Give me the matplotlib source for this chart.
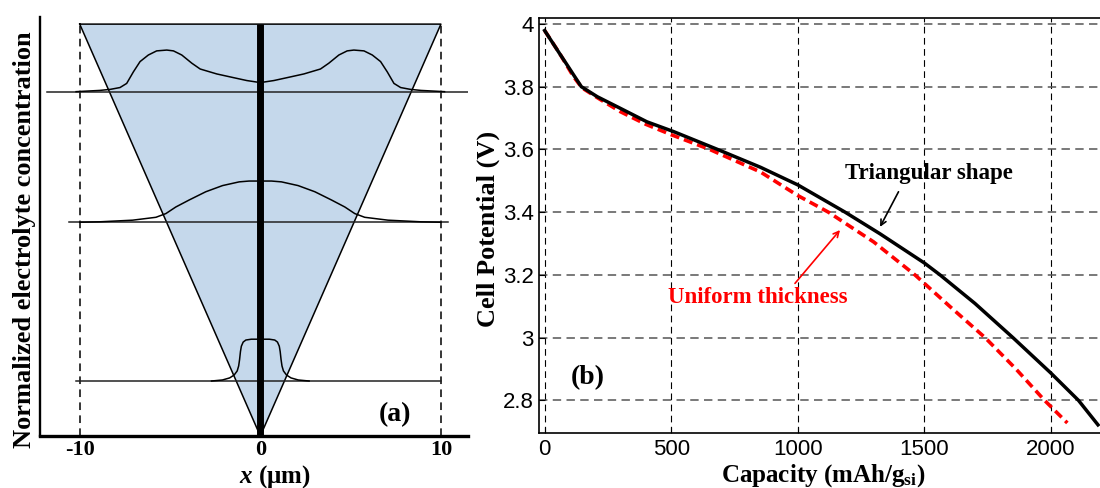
import matplotlib.pyplot as plt

plt.rcParams['mathtext.fontset'] = 'custom'
plt.rcParams['mathtext.rm'] = 'Liberation Serif:bold'
plt.rcParams['mathtext.bf'] = 'Liberation Serif:bold'
plt.rcParams['mathtext.it'] = 'Liberation Serif:italic:bold'
plt.rcParams['mathtext.bfit'] = 'Liberation Serif:italic:bold'

SERIF = 'Liberation Serif'
SANS = 'Liberation Sans'

# ---- panel (a): electrolyte concentration profiles ----
tri_x = [-10, 10, 0]
tri_y = [1.0, 1.0, 0.0]

x_ticks_a = [-10, 0, 10]

# profile levels (baseline y) and their profile curves
base_levels = [0.835, 0.519, 0.1335]
base_left = [-11.8, -10.6, -10.2]
base_right = [11.5, 10.4, 10.0]

top_x = [-10.2, -8.9, -8.32, -7.77, -7.40, -7.03, -6.66, -6.20, -5.74, -5.18, -4.81,
         -4.35, -3.79, -3.33, -2.41, -1.48, -0.75, 0.0, 0.75, 1.48, 2.41, 3.33, 3.79,
         4.35, 4.81, 5.18, 5.74, 6.20, 6.66, 7.03, 7.40, 7.77, 8.32, 8.9, 10.2]
top_y = [0.836, 0.839, 0.8415, 0.846, 0.856, 0.884, 0.909, 0.925, 0.935, 0.937, 0.935,
         0.925, 0.905, 0.891, 0.879, 0.870, 0.863, 0.858, 0.863, 0.870, 0.879, 0.891, 0.905,
         0.925, 0.935, 0.937, 0.935, 0.925, 0.909, 0.884, 0.856, 0.846, 0.8415, 0.839, 0.836]

mid_x = [-10.0, -8.9, -7.07, -5.78, -5.23, -4.68, -3.94, -3.02, -2.09, -1.17, -0.62, 0.0,
         0.62, 1.17, 2.09, 3.02, 3.94, 4.68, 5.23, 5.78, 7.07, 8.9, 10.0]
mid_y = [0.519, 0.520, 0.524, 0.531, 0.540, 0.556, 0.573, 0.593, 0.608, 0.617, 0.619, 0.619,
         0.619, 0.617, 0.608, 0.593, 0.573, 0.556, 0.540, 0.531, 0.524, 0.520, 0.519]

bot_x = [-2.7, -2.1, -1.7, -1.45, -1.28, -1.2, -1.15, -1.1, -1.05, -0.95, -0.8, -0.5, 0.0,
         0.5, 0.8, 0.95, 1.05, 1.1, 1.15, 1.2, 1.28, 1.45, 1.7, 2.1, 2.7]
bot_y = [0.1335, 0.136, 0.141, 0.148, 0.158, 0.170, 0.185, 0.205, 0.218, 0.228, 0.233, 0.235, 0.235,
         0.235, 0.233, 0.228, 0.218, 0.205, 0.185, 0.170, 0.158, 0.148, 0.141, 0.136, 0.1335]

# ---- panel (b): discharge curves ----
tri_cap = [0, 62, 85, 114, 145, 208, 299, 404, 509, 683, 853, 1000, 1187, 1325, 1500,
           1562, 1700, 1850, 2000, 2109, 2186]
tri_v = [3.979, 3.902, 3.874, 3.838, 3.800, 3.768, 3.731, 3.688, 3.657, 3.600, 3.543, 3.487,
         3.400, 3.331, 3.238, 3.200, 3.109, 3.000, 2.887, 2.800, 2.722]

uni_cap = [0, 60, 114, 148, 212, 300, 400, 500, 652, 853, 1000, 1121, 1300, 1463, 1600,
           1740, 1862, 1975, 2065]
uni_v = [3.979, 3.905, 3.832, 3.796, 3.763, 3.720, 3.680, 3.647, 3.600, 3.528, 3.453, 3.400,
         3.305, 3.200, 3.100, 3.000, 2.900, 2.800, 2.728]

cap_ticks = [0, 500, 1000, 1500, 2000]
v_ticks = [2.8, 3.0, 3.2, 3.4, 3.6, 3.8, 4.0]
v_labels = ['2.8', '3', '3.2', '3.4', '3.6', '3.8', '4']

fig = plt.figure(figsize=(11, 4.88), dpi=100)

# ---------------- panel (a) ----------------
axL = fig.add_axes([40 / 1100, 1 - 436 / 488, 428 / 1100, (436 - 16.7) / 488])
axL.fill(tri_x, tri_y, color='#c5d8eb', lw=0)
axL.plot(tri_x + [tri_x[0]], tri_y + [tri_y[0]], color='black', lw=1.1)
for xv in [-10, 10]:
    axL.plot([xv, xv], [0, 1.0], color='black', lw=1.1, dashes=(5, 3.5))
for lev, xl, xr in zip(base_levels, base_left, base_right):
    axL.plot([xl, xr], [lev, lev], color='#222222', lw=1.1)
axL.plot(top_x, top_y, color='black', lw=1.1)
axL.plot(mid_x, mid_y, color='black', lw=1.1)
axL.plot(bot_x, bot_y, color='black', lw=1.1)
axL.plot([0, 0], [0, 1.0], color='black', lw=5, solid_capstyle='butt')

axL.set_xlim(-12.2, 11.5)
axL.set_ylim(0, 1.018)
axL.spines['top'].set_visible(False)
axL.spines['right'].set_visible(False)
axL.spines['left'].set_linewidth(1.7)
axL.spines['bottom'].set_linewidth(2.4)
axL.set_yticks([])
axL.set_xticks(x_ticks_a)
axL.set_xticklabels([str(t) for t in x_ticks_a], fontfamily=SERIF, fontweight='bold', fontsize=16)
axL.tick_params(axis='x', length=0, pad=3)
axL.set_ylabel('Normalized electrolyte concentration', fontfamily=SERIF,
               fontweight='bold', fontsize=19)
axL.yaxis.set_label_coords(-0.01, 0.467)
axL.set_xlabel(r'$\mathbfit{x}$ ($\mathbf{\mu}$m)', fontfamily=SERIF, fontweight='bold', fontsize=18)
axL.xaxis.set_label_coords(0.548, -0.064)
axL.text(7.45, 0.051, '(a)', fontfamily=SERIF, fontweight='bold', fontsize=20,
         ha='center', va='center')

# ---------------- panel (b) ----------------
axR = fig.add_axes([539.2 / 1100, 1 - 433 / 488, (1100 - 539.2) / 1100, (433 - 18.3) / 488])
axR.set_xlim(-21.5, 2194)
axR.set_ylim(2.696, 4.018)
axR.set_xticks(cap_ticks)
axR.set_yticks(v_ticks)
axR.set_yticklabels(v_labels)
for lab in axR.get_xticklabels() + axR.get_yticklabels():
    lab.set_fontfamily(SANS)
    lab.set_fontsize(16)
axR.tick_params(direction='in', length=4, width=0.8, pad=4)
axR.xaxis.grid(True, color='black', lw=0.8, dashes=(6, 4))
axR.yaxis.grid(True, color='#555555', lw=1.1, dashes=(5.5, 3.5))
axR.set_axisbelow(True)
axR.spines['right'].set_visible(False)
for s in ['left', 'bottom', 'top']:
    axR.spines[s].set_linewidth(1.2)

axR.plot(uni_cap, uni_v, color='#ff0000', lw=2.6, dashes=(2.5, 1.4))
axR.plot(tri_cap, tri_v, color='black', lw=2.5)

axR.text(1187, 3.522, 'Triangular shape', fontfamily=SERIF, fontweight='bold',
         fontsize=16.5, ha='left', va='center', color='black')
axR.annotate('', xy=(1325, 3.353), xytext=(1398, 3.465),
             arrowprops=dict(arrowstyle='->', color='black', lw=1.2, shrinkA=0, shrinkB=0))
axR.text(488, 3.129, 'Uniform thickness', fontfamily=SERIF, fontweight='bold',
         fontsize=16.5, ha='left', va='center', color='#ff0000')
axR.annotate('', xy=(1167, 3.343), xytext=(989, 3.173),
             arrowprops=dict(arrowstyle='->', color='#ff0000', lw=1.2, shrinkA=0, shrinkB=0))
axR.text(170, 2.873, '(b)', fontfamily=SERIF, fontweight='bold', fontsize=20,
         ha='center', va='center')

axR.set_ylabel('Cell Potential (V)', fontfamily=SERIF, fontweight='bold', fontsize=19)
axR.yaxis.set_label_coords(-0.07, 0.492)
axR.set_xlabel(r'Capacity (mAh/g$_{\mathbf{si}}$)', fontfamily=SERIF, fontweight='bold', fontsize=18)
axR.xaxis.set_label_coords(0.506, -0.07)

fig.savefig('out.png', dpi=100)
